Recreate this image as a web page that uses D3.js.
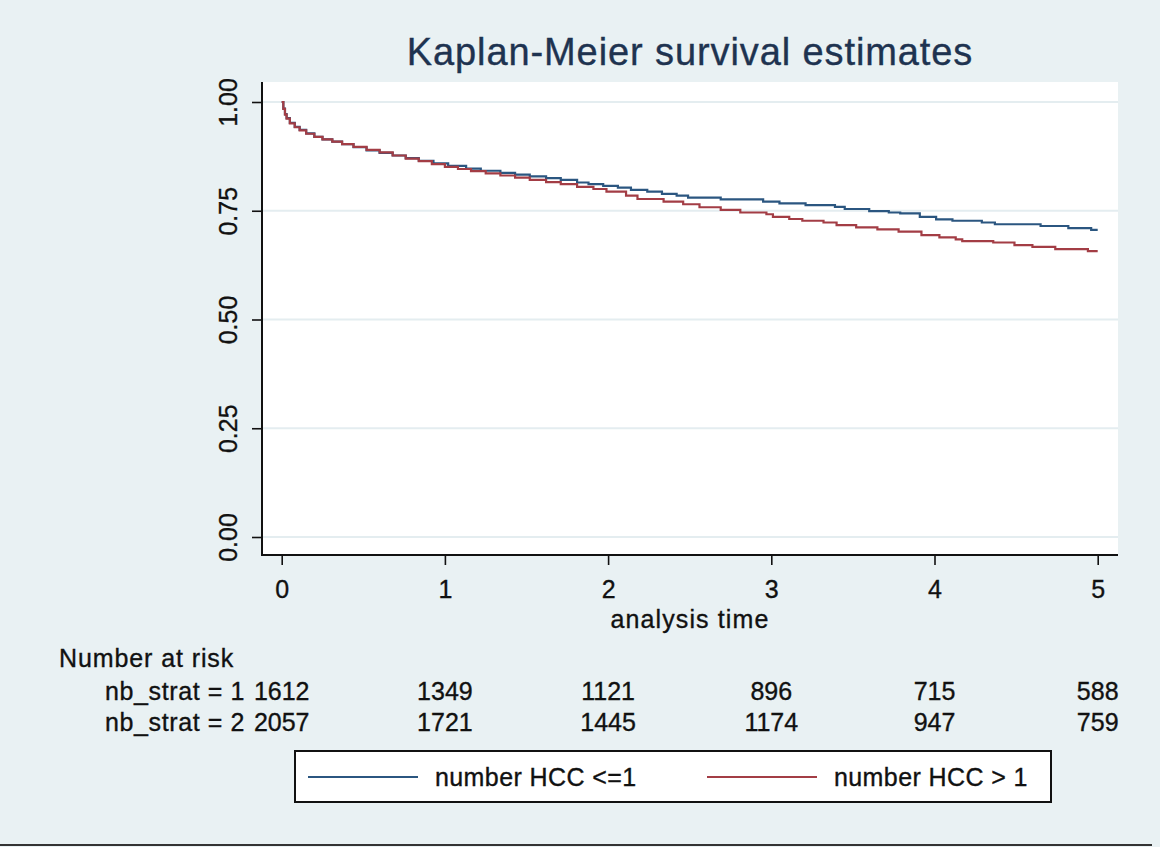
<!DOCTYPE html>
<html>
<head>
<meta charset="utf-8">
<script src="https://cdn.jsdelivr.net/npm/d3@7"></script>
<style>
  html, body { margin: 0; padding: 0; background: #e9f1f3; }
  svg { display: block; }
  text { font-family: 'Liberation Sans', Arial, sans-serif; fill: #111; stroke: #111; stroke-width: 0.35px; }
</style>
</head>
<body>
<div id="chart"></div>
<script>
// survival curves (time in years, survival)
const strat1Time = [0, 0.01, 0.02, 0.03, 0.05, 0.08, 0.11, 0.15, 0.2, 0.25, 0.31, 0.37, 0.44, 0.52, 0.6, 0.68, 0.76, 0.84, 0.93, 1.02, 1.13, 1.22, 1.34, 1.43, 1.52, 1.62, 1.71, 1.81, 1.88, 1.97, 2.06, 2.14, 2.24, 2.33, 2.42, 2.49, 2.69, 2.95, 3.05, 3.21, 3.39, 3.45, 3.6, 3.72, 3.79, 3.91, 4.01, 4.11, 4.29, 4.37, 4.65, 4.82, 4.96, 5.0]
const strat1Surv = [1.0, 0.985, 0.972, 0.963, 0.952, 0.943, 0.936, 0.928, 0.92, 0.914, 0.909, 0.903, 0.896, 0.889, 0.883, 0.877, 0.871, 0.865, 0.859, 0.853, 0.847, 0.842, 0.837, 0.833, 0.829, 0.825, 0.821, 0.815, 0.811, 0.807, 0.803, 0.798, 0.794, 0.789, 0.785, 0.78, 0.776, 0.771, 0.767, 0.763, 0.759, 0.754, 0.749, 0.746, 0.744, 0.736, 0.73, 0.727, 0.723, 0.719, 0.715, 0.71, 0.706, 0.706]

const strat2Time = [0, 0.01, 0.02, 0.03, 0.05, 0.08, 0.11, 0.15, 0.2, 0.25, 0.31, 0.37, 0.44, 0.52, 0.6, 0.68, 0.76, 0.84, 0.92, 1.0, 1.08, 1.16, 1.25, 1.34, 1.43, 1.52, 1.62, 1.71, 1.81, 1.91, 1.99, 2.11, 2.18, 2.34, 2.46, 2.56, 2.69, 2.81, 2.97, 3.01, 3.11, 3.19, 3.32, 3.4, 3.52, 3.65, 3.78, 3.92, 4.03, 4.13, 4.17, 4.36, 4.49, 4.6, 4.74, 4.94, 5.0]
const strat2Surv = [1.0, 0.984, 0.971, 0.962, 0.951, 0.942, 0.935, 0.927, 0.92, 0.914, 0.909, 0.903, 0.897, 0.89, 0.884, 0.877, 0.87, 0.864, 0.857, 0.851, 0.846, 0.841, 0.836, 0.831, 0.826, 0.821, 0.816, 0.811, 0.805, 0.8, 0.794, 0.785, 0.777, 0.771, 0.765, 0.758, 0.752, 0.746, 0.742, 0.736, 0.731, 0.727, 0.723, 0.717, 0.712, 0.707, 0.702, 0.694, 0.689, 0.684, 0.68, 0.677, 0.671, 0.667, 0.662, 0.657, 0.657]

const xTicks = [0, 1, 2, 3, 4, 5]
const yTicks = [0, 0.25, 0.5, 0.75, 1]
const riskLabels = ['nb_strat = 1', 'nb_strat = 2']
const riskStrat1 = [1612, 1349, 1121, 896, 715, 588]
const riskStrat2 = [2057, 1721, 1445, 1174, 947, 759]
const legendLabels = ['number HCC <=1', 'number HCC > 1']
const colors = ['#2b5680', '#a33d45']

const W = 1160
const H = 847
const plot = { left: 262, right: 1118, top: 82, bottom: 555 }

const svg = d3.select('#chart')
  .append('svg')
  .attr('width', W)
  .attr('height', H)

svg.append('rect')
  .attr('width', W)
  .attr('height', H)
  .attr('fill', '#e9f1f3')

svg.append('rect')
  .attr('x', plot.left)
  .attr('y', plot.top)
  .attr('width', plot.right - plot.left)
  .attr('height', plot.bottom - plot.top)
  .attr('fill', '#fff')

const x = d3.scaleLinear().domain([0, 5]).range([281.7, 1097.7])
const y = d3.scaleLinear().domain([0, 1]).range([537, 102])

// grid
svg.append('g')
  .selectAll('line')
  .data(yTicks)
  .enter()
  .append('line')
  .attr('x1', plot.left)
  .attr('x2', plot.right)
  .attr('y1', (d) => y(d))
  .attr('y2', (d) => y(d))
  .attr('stroke', '#e4edf0')
  .attr('stroke-width', 2)

// curves
const line = d3.line()
  .x((d) => x(d[0]))
  .y((d) => y(d[1]))
  .curve(d3.curveStepAfter)

const series = [
  d3.zip(strat1Time, strat1Surv),
  d3.zip(strat2Time, strat2Surv)
]

svg.append('g')
  .selectAll('path')
  .data(series)
  .enter()
  .append('path')
  .attr('d', line)
  .attr('fill', 'none')
  .attr('stroke', (d, i) => colors[i])
  .attr('stroke-width', 2.2)

// axes
const yAxis = svg.append('g')
  .attr('transform', `translate(${plot.left},0)`)
  .call(d3.axisLeft(y).tickValues(yTicks).tickSize(10).tickFormat(d3.format('.2f')))

yAxis.select('.domain').remove()
yAxis.selectAll('line').attr('stroke', '#111').attr('stroke-width', 1.6)
yAxis.selectAll('text')
  .attr('transform', 'rotate(-90)')
  .attr('x', 0)
  .attr('y', -25)
  .attr('dy', 0)
  .attr('text-anchor', 'middle')
  .attr('font-size', 25)
  .attr('fill', '#111')

const xAxis = svg.append('g')
  .attr('transform', `translate(0,${plot.bottom})`)
  .call(d3.axisBottom(x).tickValues(xTicks).tickSize(10).tickFormat(d3.format('d')))

xAxis.select('.domain').remove()
xAxis.selectAll('line').attr('stroke', '#111').attr('stroke-width', 1.6)
xAxis.selectAll('text')
  .attr('y', 43)
  .attr('dy', 0)
  .attr('font-size', 25)
  .attr('fill', '#111')

svg.append('line')
  .attr('x1', plot.left)
  .attr('x2', plot.left)
  .attr('y1', plot.top)
  .attr('y2', plot.bottom + 1)
  .attr('stroke', '#111')
  .attr('stroke-width', 2)

svg.append('line')
  .attr('x1', plot.left - 1)
  .attr('x2', plot.right)
  .attr('y1', plot.bottom)
  .attr('y2', plot.bottom)
  .attr('stroke', '#111')
  .attr('stroke-width', 2)

// titles
svg.append('text')
  .attr('x', (plot.left + plot.right) / 2)
  .attr('y', 65)
  .attr('text-anchor', 'middle')
  .attr('font-size', 38)
  .attr('letter-spacing', 0.9)
  .style('fill', '#1e3350')
  .style('stroke', '#1e3350')
  .text('Kaplan-Meier survival estimates')

svg.append('text')
  .attr('x', (plot.left + plot.right) / 2)
  .attr('y', 628)
  .attr('text-anchor', 'middle')
  .attr('font-size', 25)
  .attr('letter-spacing', 1.1)
  .text('analysis time')

// number at risk table
svg.append('text')
  .attr('x', 59)
  .attr('y', 667)
  .attr('font-size', 25)
  .attr('letter-spacing', 0.9)
  .text('Number at risk')

const riskRows = [riskStrat1, riskStrat2]
riskRows.forEach((row, r) => {
  const rowY = 700 + r * 31
  svg.append('text')
    .attr('x', 245)
    .attr('y', rowY)
    .attr('text-anchor', 'end')
    .attr('font-size', 25)
    .attr('letter-spacing', 0.6)
    .text(riskLabels[r])
  svg.append('g')
    .selectAll('text')
    .data(row)
    .enter()
    .append('text')
    .attr('x', (d, i) => x(xTicks[i]))
    .attr('y', rowY)
    .attr('text-anchor', 'middle')
    .attr('font-size', 25)
    .text((d) => d)
})

// legend
const legend = svg.append('g')
legend.append('rect')
  .attr('x', 295)
  .attr('y', 751)
  .attr('width', 756)
  .attr('height', 51)
  .attr('fill', '#fff')
  .attr('stroke', '#111')
  .attr('stroke-width', 2)

const legendX = [308, 707]
legendLabels.forEach((label, i) => {
  legend.append('line')
    .attr('x1', legendX[i])
    .attr('x2', legendX[i] + 110)
    .attr('y1', 777)
    .attr('y2', 777)
    .attr('stroke', colors[i])
    .attr('stroke-width', 2.2)
  legend.append('text')
    .attr('x', legendX[i] + 127)
    .attr('y', 786)
    .attr('font-size', 25)
    .attr('letter-spacing', 0.4)
    .text(label)
})

// bottom rule
svg.append('line')
  .attr('x1', 0)
  .attr('x2', 1152)
  .attr('y1', 845)
  .attr('y2', 845)
  .attr('stroke', '#333')
  .attr('stroke-width', 2)
</script>
</body>
</html>
